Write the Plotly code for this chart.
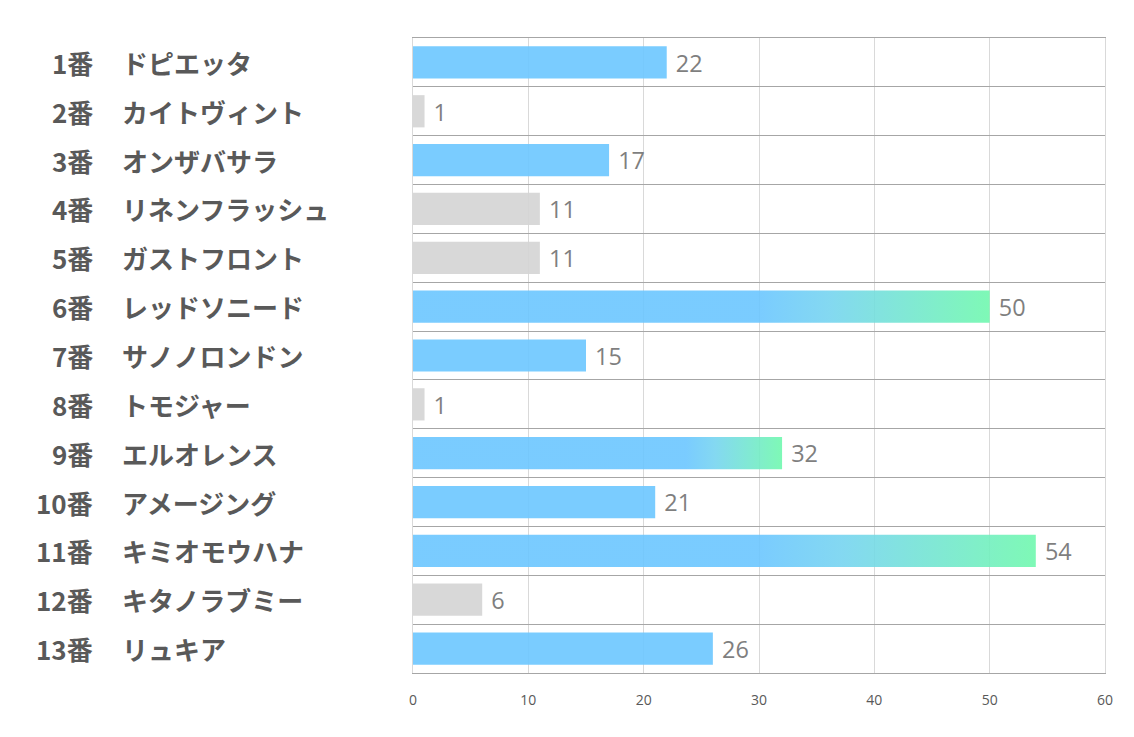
import plotly.graph_objects as go

numbers = ["1番", "2番", "3番", "4番", "5番", "6番", "7番", "8番", "9番", "10番", "11番", "12番", "13番"]
names = ["ドピエッタ", "カイトヴィント", "オンザバサラ", "リネンフラッシュ", "ガストフロント", "レッドソニード",
         "サノノロンドン", "トモジャー", "エルオレンス", "アメージング", "キミオモウハナ", "キタノラブミー", "リュキア"]
values = [22, 1, 17, 11, 11, 50, 15, 1, 32, 21, 54, 6, 26]
x_ticks = [0, 10, 20, 30, 40, 50, 60]

BLUE = "rgba(107,198,255,0.9)"
GREEN = "rgba(112,248,174,0.9)"
GRAY = "rgba(212,212,212,0.9)"
BAR_W = 0.66

pos = list(range(len(values)))

def bar_color(v):
    if v >= 30:
        return "rgba(0,0,0,0)"  # drawn by gradient polygon on top
    return BLUE if v >= 15 else GRAY

fig = go.Figure()
fig.add_trace(go.Bar(
    x=values, y=pos, orientation="h", width=BAR_W,
    marker=dict(color=[bar_color(v) for v in values], line_width=0),
    texttemplate=" %{x}", textposition="outside", cliponaxis=False,
    textfont=dict(family="Open Sans, sans-serif", size=24, color="#7f7f7f"),
    hoverinfo="skip", showlegend=False,
))

# gradient bars (blue -> green) for the large values
for i, v in zip(pos, values):
    if v < 30:
        continue
    g0 = min(30, 0.74 * v)
    fig.add_trace(go.Scatter(
        x=[0, v, v, 0, 0], y=[i - BAR_W / 2, i - BAR_W / 2, i + BAR_W / 2, i + BAR_W / 2, i - BAR_W / 2],
        mode="lines", line_width=0, fill="toself",
        fillgradient=dict(type="horizontal", colorscale=[[0, BLUE], [0.3, "rgba(118,212,240,0.9)"], [1, GREEN]],
                          start=g0, stop=v),
        hoverinfo="skip", showlegend=False,
    ))

lab_font = dict(family="Noto Sans CJK JP", size=26, color="#595959", weight="bold")
annotations = []
for i, (num, nm) in enumerate(zip(numbers, names)):
    annotations.append(dict(x=-0.459, y=i, xref="paper", yref="y", text=num, showarrow=False,
                            xanchor="right", font=lab_font))
    annotations.append(dict(x=-0.424, y=i, xref="paper", yref="y", text=nm, showarrow=False,
                            xanchor="left", font=lab_font))

fig.update_layout(
    width=1126, height=729,
    margin=dict(l=405, r=29, t=30, b=64),
    plot_bgcolor="white", paper_bgcolor="white",
    annotations=annotations,
    xaxis=dict(range=[0, 60], tickvals=x_ticks, showgrid=True, gridcolor="#d9d9d9", gridwidth=1,
               zeroline=False, showline=True, linecolor="#a6a6a6", linewidth=1, mirror=True,
               ticks="", ticklabelstandoff=14,
               tickfont=dict(family="Open Sans, sans-serif", size=14, color="#595959")),
    yaxis=dict(range=[len(values) - 0.5, -0.5], tickvals=[p - 0.5 for p in pos] + [len(values) - 0.5],
               showticklabels=False, showgrid=True, gridcolor="#a6a6a6", gridwidth=1,
               zeroline=False, showline=True, linecolor="#d9d9d9", linewidth=1, mirror=True, ticks=""),
)

fig.write_html("out.html")
